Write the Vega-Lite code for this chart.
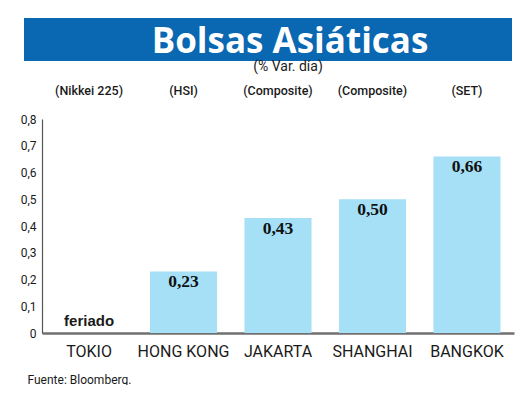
{
  "$schema": "https://vega.github.io/schema/vega-lite/v6.json",
  "padding": {"left": 20, "top": 6, "right": 10, "bottom": 0},
  "bounds": "flush",
  "spacing": 76,
  "background": "white",
  "config": {
    "locale": {"number": {"decimal": ",", "thousands": ".", "grouping": [3], "currency": ["", " €"]}},
    "view": {"stroke": null},
    "font": "Roboto"
  },
  "datasets": {
    "bolsas": [
      {"mercado": "TOKIO", "indice": "(Nikkei 225)", "variacion": null, "nota": "feriado"},
      {"mercado": "HONG KONG", "indice": "(HSI)", "variacion": 0.23, "nota": null},
      {"mercado": "JAKARTA", "indice": "(Composite)", "variacion": 0.43, "nota": null},
      {"mercado": "SHANGHAI", "indice": "(Composite)", "variacion": 0.50, "nota": null},
      {"mercado": "BANGKOK", "indice": "(SET)", "variacion": 0.66, "nota": null}
    ]
  },
  "vconcat": [
    {
      "width": 452,
      "height": 7,
      "view": {"fill": "#0a67b2", "stroke": "#0a67b2", "strokeWidth": 36},
      "data": {"values": [{"titulo": "Bolsas Asiáticas"}]},
      "mark": {"type": "text", "font": "Open Sans", "fontWeight": "bold", "fontSize": 35, "color": "white", "baseline": "alphabetic", "dx": 22, "dy": 13},
      "encoding": {"text": {"field": "titulo"}}
    },
    {
      "width": 472,
      "height": 214,
      "data": {"name": "bolsas"},
      "title": {"text": "(% Var. día)", "font": "Roboto", "fontSize": 14, "fontWeight": "normal", "color": "#1a1a1a", "dx": 10, "offset": 10},
      "resolve": {"axis": {"x": "independent"}},
      "layer": [
        {
          "mark": {"type": "text", "font": "Liberation Sans", "fontSize": 15, "fontWeight": "bold", "baseline": "alphabetic", "dy": -7, "color": "#1a1a1a"},
          "encoding": {
            "x": {
              "field": "mercado", "type": "nominal", "sort": null,
              "scale": {"paddingInner": 0.29, "paddingOuter": 0.143},
              "axis": {
                "orient": "top", "title": null, "domain": false, "ticks": false, "grid": false,
                "labelPadding": 22, "labelFontSize": 12.5, "labelFontWeight": 500, "labelAngle": 0, "labelColor": "#1a1a1a",
                "labelExpr": "data('bolsas')[indexof(pluck(data('bolsas'), 'mercado'), datum.value)].indice"
              }
            },
            "y": {"datum": 0, "type": "quantitative", "title": null},
            "text": {"field": "nota"}
          }
        },
        {
          "mark": {"type": "bar", "color": "#a5e0f6"},
          "encoding": {
            "x": {
              "field": "mercado", "type": "nominal", "sort": null,
              "axis": {
                "orient": "bottom", "title": "Fuente: Bloomberg.", "domainColor": "#707070", "domainWidth": 2.5,
                "ticks": false, "grid": false, "labelPadding": 10, "labelFontSize": 16, "labelAngle": 0, "labelColor": "#1a1a1a",
                "titleFontSize": 12, "titleFontWeight": "normal", "titleColor": "#1a1a1a",
                "titleAnchor": "start", "titleAlign": "left", "titleBaseline": "alphabetic", "titleX": -15, "titleY": 50
              }
            },
            "y": {
              "field": "variacion", "type": "quantitative", "title": null,
              "scale": {"domain": [0, 0.8]},
              "axis": {
                "tickCount": 8, "format": ".1~f", "ticks": false, "domainColor": "#555555", "domainWidth": 1.2,
                "gridColor": "#dcdcdc", "gridWidth": 1.5, "labelFontSize": 12, "labelPadding": 6, "labelColor": "#1a1a1a"
              }
            }
          }
        },
        {
          "mark": {"type": "text", "font": "Liberation Serif", "fontWeight": "bold", "fontSize": 17.5, "baseline": "alphabetic", "dy": 16, "color": "#111111"},
          "encoding": {
            "x": {"field": "mercado", "type": "nominal", "sort": null, "axis": null},
            "y": {"field": "variacion", "type": "quantitative", "title": null},
            "text": {"field": "variacion", "type": "quantitative", "format": ".2f"}
          }
        }
      ]
    }
  ]
}
